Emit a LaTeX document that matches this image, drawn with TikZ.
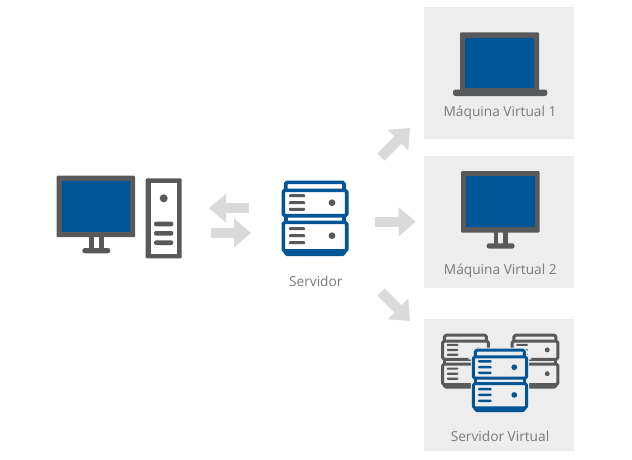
\documentclass[tikz,border=0pt]{standalone}
\usepackage{fontspec}
\setmainfont{Open Sans}
\usetikzlibrary{arrows.meta}
\definecolor{vblue}{HTML}{005596}
\definecolor{vdark}{HTML}{58595B}
\definecolor{varrow}{HTML}{D9DAD9}
\definecolor{vpanel}{HTML}{EDEDED}
\definecolor{vtext}{HTML}{7A7B7C}
\tikzset{
  panel/.style={fill=vpanel,draw=none,minimum width=150pt,minimum height=132pt,inner sep=0pt,outer sep=0pt},
  caption/.style={text=vtext,font=\fontsize{13.7}{16}\selectfont,anchor=base,inner sep=0pt},
  flow/.style={draw=varrow,line width=10pt,-{Triangle[length=17pt,width=28pt,fill=varrow]}},
  darkfill/.style={fill=vdark,draw=none,rounded corners=1pt},
  screen/.style={fill=vblue,draw=none}
}
% monitor: origin at the outer top-left corner of the frame
\newcommand{\vmonitor}[2]{%
  \begin{scope}[shift={(#1,#2)}]
    \fill[darkfill] (0,0) rectangle (78.5,61.5);
    \fill[screen] (5.2,5.2) rectangle (73.5,56.3);
    \fill[vdark] (32.5,61) rectangle (37.3,73);
    \fill[vdark] (42,61) rectangle (46.8,73);
    \fill[darkfill,rounded corners=2.5pt] (25.6,72.3) rectangle (53.6,77.6);
  \end{scope}}
% server: origin at its centre; #3 scale, #4 line width, #5 outline, #6 bars and dot, #7 background
\newcommand{\vserver}[7]{%
  \begin{scope}[shift={(#1,#2)},scale=#3,rounded corners=1.5pt]
    \draw[#7,fill=#7,line width=#4+2pt] (-29.3,-28.2) -- (-29.3,-36.2) -- (29,-36.2) -- (29,-28.2) -- (31.7,-28.2) -- (31.7,32.5) -- (29,32.5) -- (29,35.8) -- (-29.3,35.8) -- (-29.3,32.5) -- (-31.7,32.5) -- (-31.7,-28.2) -- cycle;
    \fill[#5,opacity=.35] (-31.7,32.5) rectangle (31.7,35.8);
    \draw[#5,line width=#4,line join=round] (-29.3,-28.2) -- (-29.3,-36.2) -- (29,-36.2) -- (29,-28.2);
    \draw[#5,line width=#4,line join=round] (-31.7,-28.2) rectangle (31.7,-2.8);
    \draw[#5,line width=#4,line join=round] (-31.7,3.8) rectangle (31.7,32.5);
    \draw[#5,line width=#4] (-29.3,-2.8) -- (-29.3,3.8) (29,-2.8) -- (29,3.8);
    \draw[#5,line width=#4,line join=round] (-29.3,32.5) -- (-29.3,35.8) -- (29,35.8) -- (29,32.5);
    \foreach \yy in {-22.8,-15.8,-9.2,10.2,17.2,24.2}
      \fill[#6,rounded corners=.9pt] (-26,\yy-1.5) rectangle (-10,\yy+1.5);
    \fill[#6] (17,-15.8) circle (3.4);
    \fill[#6] (17,17.2) circle (3.4);
  \end{scope}}
\begin{document}
\begin{tikzpicture}[x=1pt,y=-1pt]
\useasboundingbox (0,0) rectangle (632,459);
\fill[white] (0,0) rectangle (632,459);

% panels
\node[panel] (vm1) at (499,73) {};
\node[panel] (vm2) at (499,222) {};
\node[panel] (vm3) at (499,385) {};

% desktop computer
\vmonitor{56.7}{175.7}
\fill[darkfill] (145.7,178.3) rectangle (181.7,258.3);
\fill[white] (150.7,183.3) rectangle (176.9,253.6);
\fill[vdark] (163.7,198.3) circle (4);
\foreach \yy in {224,233.3,242.7}
  \fill[vdark,rounded corners=2pt] (154,\yy-2.3) rectangle (173.3,\yy+2.3);

% central server
\vserver{315}{218.5}{1}{3.6pt}{vblue}{vdark}{white}
\node[caption] (srvlabel) at (315.8,286.3) {Servidor};

% laptop
\fill[darkfill] (460,32.3) rectangle (539,92);
\fill[screen] (465.3,37.5) rectangle (534,88);
\fill[darkfill,rounded corners=2.5pt] (453,89.5) rectangle (547.3,96);
\node[caption] (vm1label) at (500,116.3) {Máquina Virtual 1};

% second monitor
\vmonitor{461}{171}
\node[caption] (vm2label) at (500.3,274.5) {Máquina Virtual 2};

% server group
\vserver{465.5}{361.3}{.72}{3pt}{vdark}{vdark}{vpanel}
\vserver{535}{361.3}{.72}{3pt}{vdark}{vdark}{vpanel}
\vserver{500}{380.5}{.84}{3pt}{vblue}{vblue}{vpanel}
\node[caption] (vm3label) at (500,441) {Servidor Virtual};

% arrows
\coordinate (s1) at (249,208.2);
\coordinate (e1) at (209,208.2);
\coordinate (s2) at (211,233);
\coordinate (e2) at (251,233);
\coordinate (s3) at (381,157);
\coordinate (e3) at (410,128);
\coordinate (s4) at (375,221.8);
\coordinate (e4) at (415.7,221.8);
\coordinate (s5) at (381,292);
\coordinate (e5) at (410,321);
\draw[flow] (s1) -- (e1);
\draw[flow] (s2) -- (e2);
\draw[flow] (s3) -- (e3);
\draw[flow] (s4) -- (e4);
\draw[flow] (s5) -- (e5);
\end{tikzpicture}
\end{document}
